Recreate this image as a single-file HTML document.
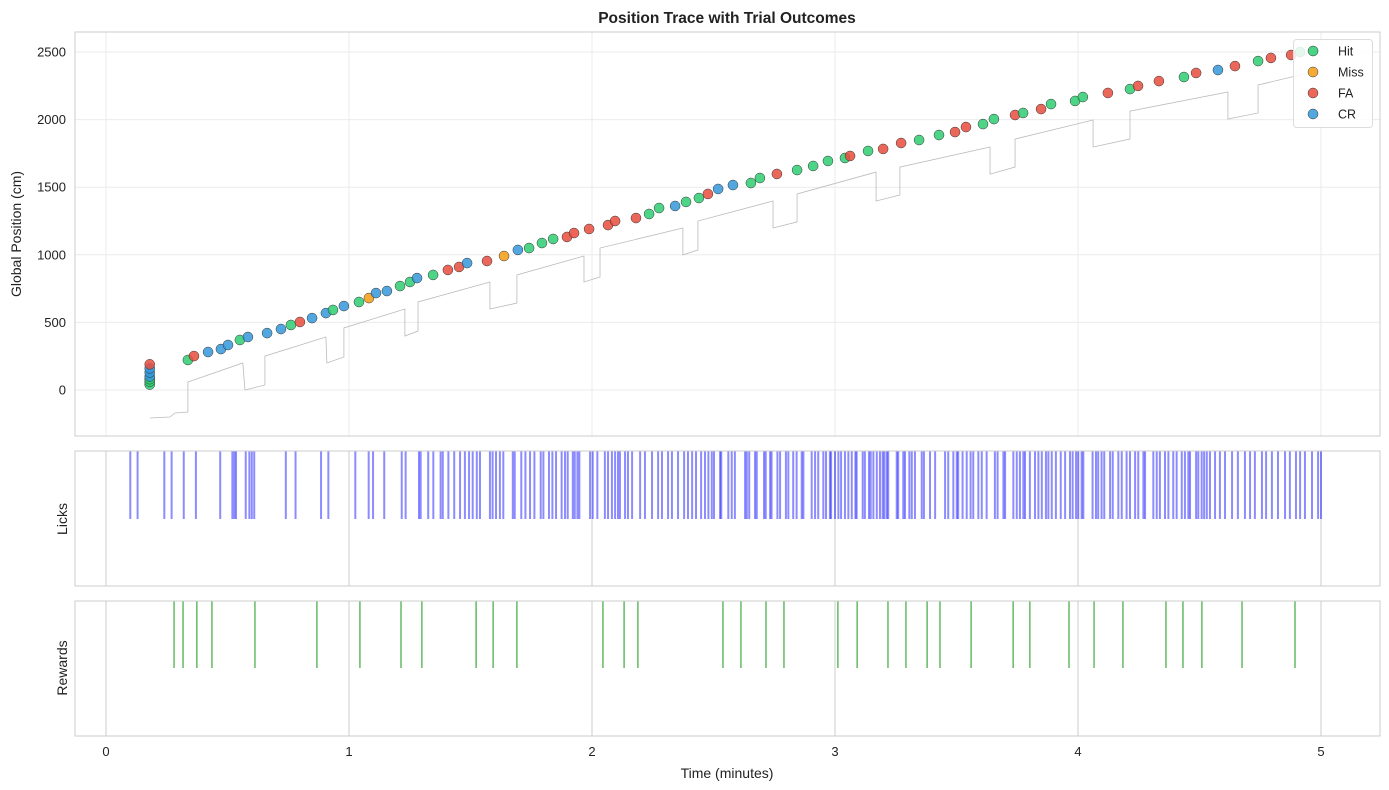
<!DOCTYPE html>
<html><head><meta charset="utf-8"><style>
body{margin:0;background:#fff;font-family:"Liberation Sans","DejaVu Sans",sans-serif}
svg{display:block}
</style></head><body>
<svg id="chart" width="1389" height="790" xmlns="http://www.w3.org/2000/svg" font-family="Liberation Sans, DejaVu Sans, sans-serif"></svg>
<script>
const outcomeTypes=["Hit","Miss","FA","CR"];
const outcomeColors={Hit:"#2ecc71",Miss:"#f39c12",FA:"#e74c3c",CR:"#3498db"};
const trialTimes=[0.18,0.18,0.18,0.18,0.18,0.18,0.18,0.337,0.362,0.42,0.473,0.502,0.551,0.584,0.663,0.72,0.761,0.798,0.848,0.905,0.934,0.979,1.041,1.082,1.111,1.156,1.21,1.251,1.28,1.346,1.407,1.453,1.486,1.568,1.638,1.695,1.741,1.794,1.84,1.897,1.926,1.988,2.066,2.095,2.181,2.235,2.276,2.342,2.387,2.44,2.477,2.519,2.58,2.654,2.691,2.761,2.844,2.91,2.971,3.041,3.062,3.136,3.198,3.272,3.346,3.428,3.494,3.539,3.609,3.654,3.741,3.774,3.848,3.889,3.988,4.02,4.123,4.214,4.247,4.333,4.436,4.486,4.576,4.646,4.741,4.794,4.877,4.914,4.97];
const trialPositions=[40,60,80,100,130,160,190,222,251,281,303,333,370,392,421,451,481,503,532,569,592,621,651,680,717,732,769,799,828,851,888,910,939,954,991,1036,1050,1087,1117,1132,1161,1191,1220,1250,1272,1302,1346,1361,1391,1420,1450,1487,1516,1531,1568,1598,1627,1657,1694,1716,1731,1768,1783,1827,1849,1886,1908,1945,1967,2004,2034,2049,2078,2115,2138,2167,2197,2226,2249,2285,2315,2345,2367,2396,2433,2456,2478,2500,2507];
const trialOutcomes=["Hit","Hit","Hit","CR","CR","CR","FA","Hit","FA","CR","CR","CR","Hit","CR","CR","CR","Hit","FA","CR","CR","Hit","CR","Hit","Miss","CR","CR","Hit","Hit","CR","Hit","FA","FA","CR","FA","Miss","CR","Hit","Hit","Hit","FA","FA","FA","FA","FA","FA","Hit","Hit","CR","Hit","Hit","FA","CR","CR","Hit","Hit","FA","Hit","Hit","Hit","Hit","FA","Hit","FA","FA","Hit","Hit","FA","FA","Hit","Hit","FA","Hit","FA","Hit","Hit","Hit","FA","Hit","FA","FA","Hit","FA","CR","FA","Hit","FA","FA","Hit","Hit"];
const traceTimes=[0.181,0.263,0.284,0.337,0.337,0.563,0.572,0.654,0.654,0.905,0.909,0.979,0.979,1.230,1.230,1.284,1.284,1.580,1.580,1.691,1.691,1.967,1.967,2.033,2.033,2.374,2.374,2.436,2.436,2.745,2.745,2.844,2.844,3.169,3.169,3.267,3.267,3.638,3.638,3.741,3.741,4.062,4.062,4.214,4.214,4.617,4.617,4.741,4.741,5.0];
const tracePositions=[-207,-200,-170,-163,59,200,0,37,251,392,200,244,459,599,399,436,651,799,599,643,851,991,799,836,1050,1198,999,1036,1250,1398,1198,1243,1450,1612,1398,1442,1649,1797,1597,1649,1856,1997,1797,1856,2063,2204,2004,2049,2256,2367];
const lickTimes=[0.10,0.13,0.24,0.27,0.32,0.37,0.47,0.52,0.528,0.535,0.575,0.59,0.60,0.61,0.74,0.78,0.885,0.915,1.026,1.081,1.099,1.145,1.217,1.233,1.288,1.295,1.326,1.347,1.377,1.386,1.409,1.433,1.457,1.477,1.494,1.509,1.526,1.539,1.580,1.591,1.605,1.621,1.635,1.674,1.682,1.709,1.726,1.745,1.763,1.789,1.800,1.823,1.837,1.852,1.875,1.889,1.900,1.921,1.929,1.940,1.948,1.992,2.003,2.022,2.053,2.066,2.082,2.095,2.107,2.115,2.136,2.148,2.165,2.198,2.218,2.247,2.272,2.288,2.313,2.329,2.354,2.379,2.395,2.412,2.428,2.449,2.465,2.479,2.493,2.502,2.527,2.532,2.561,2.575,2.588,2.630,2.637,2.647,2.671,2.678,2.708,2.715,2.733,2.739,2.763,2.774,2.798,2.808,2.828,2.842,2.863,2.870,2.904,2.918,2.931,2.952,2.963,2.979,2.984,3.000,3.014,3.025,3.041,3.055,3.069,3.084,3.089,3.114,3.123,3.140,3.147,3.158,3.172,3.185,3.196,3.203,3.213,3.219,3.254,3.260,3.281,3.288,3.306,3.316,3.329,3.357,3.366,3.391,3.412,3.453,3.466,3.487,3.501,3.507,3.525,3.542,3.558,3.569,3.590,3.604,3.624,3.658,3.669,3.693,3.700,3.734,3.748,3.761,3.775,3.782,3.802,3.823,3.837,3.851,3.868,3.878,3.892,3.909,3.929,3.947,3.967,3.978,3.992,4.001,4.015,4.022,4.060,4.074,4.083,4.097,4.108,4.132,4.143,4.166,4.180,4.200,4.214,4.235,4.248,4.269,4.276,4.310,4.324,4.337,4.358,4.372,4.392,4.406,4.427,4.440,4.454,4.461,4.486,4.495,4.509,4.519,4.530,4.543,4.564,4.584,4.605,4.634,4.658,4.687,4.708,4.728,4.757,4.774,4.798,4.823,4.852,4.872,4.897,4.914,4.934,4.963,4.988,5.0];
const rewardTimes=[0.28,0.317,0.374,0.436,0.613,0.868,1.045,1.214,1.300,1.523,1.593,1.691,2.045,2.132,2.189,2.539,2.613,2.716,2.790,3.012,3.091,3.218,3.292,3.379,3.432,3.560,3.733,3.802,3.963,4.066,4.185,4.362,4.432,4.510,4.675,4.893];
const xTicks=[0,1,2,3,4,5];
const yTicks=[0,500,1000,1500,2000,2500];

const NS="http://www.w3.org/2000/svg";
const svg=document.getElementById("chart");
function mk(tag,attrs,parent){const e=document.createElementNS(NS,tag);for(const k in attrs)e.setAttribute(k,attrs[k]);(parent||svg).appendChild(e);return e;}
const L=75,R=1380;
const X=t=>106+(t-0)*(1321-106)/5;
const Y=p=>390-p*(390-52)/2500;
const P1={t:32,b:436},P2={t:451,b:586},P3={t:601,b:736};

let e=mk("text",{x:727,y:23,"text-anchor":"middle","font-size":"15.5","font-weight":"bold",fill:"#222"});e.textContent="Position Trace with Trial Outcomes";



xTicks.forEach(t=>{const g=mk("line",{x1:X(t),x2:X(t),y1:P1.t,y2:P1.b,stroke:"#ebebeb","stroke-width":1});

});
yTicks.forEach(v=>{const g=mk("line",{x1:L,x2:R,y1:Y(v),y2:Y(v),stroke:"#ebebeb","stroke-width":1});


const tl=mk("text",{x:66,y:Y(v)+4.5,"text-anchor":"end","font-size":"13",fill:"#222"});tl.textContent=v;

});

const tr=mk("polyline",{points:traceTimes.map((t,i)=>X(t)+","+Y(tracePositions[i])).join(" "),fill:"none",stroke:"#bbb","stroke-width":0.8});



trialTimes.forEach((t,i)=>{const c=mk("circle",{cx:X(t),cy:Y(trialPositions[i]),r:5,fill:outcomeColors[trialOutcomes[i]],"fill-opacity":0.85,stroke:"#333","stroke-width":0.5});

});

mk("rect",{x:L,y:P1.t,width:R-L,height:P1.b-P1.t,fill:"none",stroke:"#ccc","stroke-width":1});

const lg=mk("g",{});


mk("rect",{x:1293.5,y:39.5,width:79,height:88,rx:3,fill:"#fff","fill-opacity":0.85,stroke:"#ddd"},lg);
outcomeTypes.forEach((o,i)=>{const ly=51+i*21;
const c=mk("circle",{cx:1313,cy:ly,r:5,fill:outcomeColors[o],"fill-opacity":0.85,stroke:"#333","stroke-width":0.5},lg);


const t=mk("text",{x:1338,y:ly+4.5,"font-size":"12.5",fill:"#222"},lg);t.textContent=o;

});

e=mk("text",{x:21,y:234,"text-anchor":"middle","font-size":"14",fill:"#222",transform:"rotate(-90 21 234)"});e.textContent="Global Position (cm)";



xTicks.forEach(t=>{const g=mk("line",{x1:X(t),x2:X(t),y1:P2.t,y2:P2.b,stroke:"#ccc","stroke-width":1});

});
lickTimes.forEach(t=>{const l=mk("line",{x1:X(t),x2:X(t),y1:P2.t,y2:519,stroke:"#0000ff","stroke-opacity":0.45,"stroke-width":2});

});
mk("rect",{x:L,y:P2.t,width:R-L,height:P2.b-P2.t,fill:"none",stroke:"#ccc","stroke-width":1});
e=mk("text",{x:67,y:519,"text-anchor":"middle","font-size":"14",fill:"#222",transform:"rotate(-90 67 519)"});e.textContent="Licks";



xTicks.forEach(t=>{const g=mk("line",{x1:X(t),x2:X(t),y1:P3.t,y2:P3.b,stroke:"#ccc","stroke-width":1});

});
rewardTimes.forEach(t=>{const l=mk("line",{x1:X(t),x2:X(t),y1:P3.t,y2:668,stroke:"#2ca02c","stroke-width":1.1});

});
mk("rect",{x:L,y:P3.t,width:R-L,height:P3.b-P3.t,fill:"none",stroke:"#ccc","stroke-width":1});
e=mk("text",{x:67,y:668,"text-anchor":"middle","font-size":"14",fill:"#222",transform:"rotate(-90 67 668)"});e.textContent="Rewards";



xTicks.forEach(t=>{const tl=mk("text",{x:X(t),y:756,"text-anchor":"middle","font-size":"13",fill:"#222"});tl.textContent=t;

});
e=mk("text",{x:727,y:778,"text-anchor":"middle","font-size":"14",fill:"#222"});e.textContent="Time (minutes)";


</script>
</body></html>
